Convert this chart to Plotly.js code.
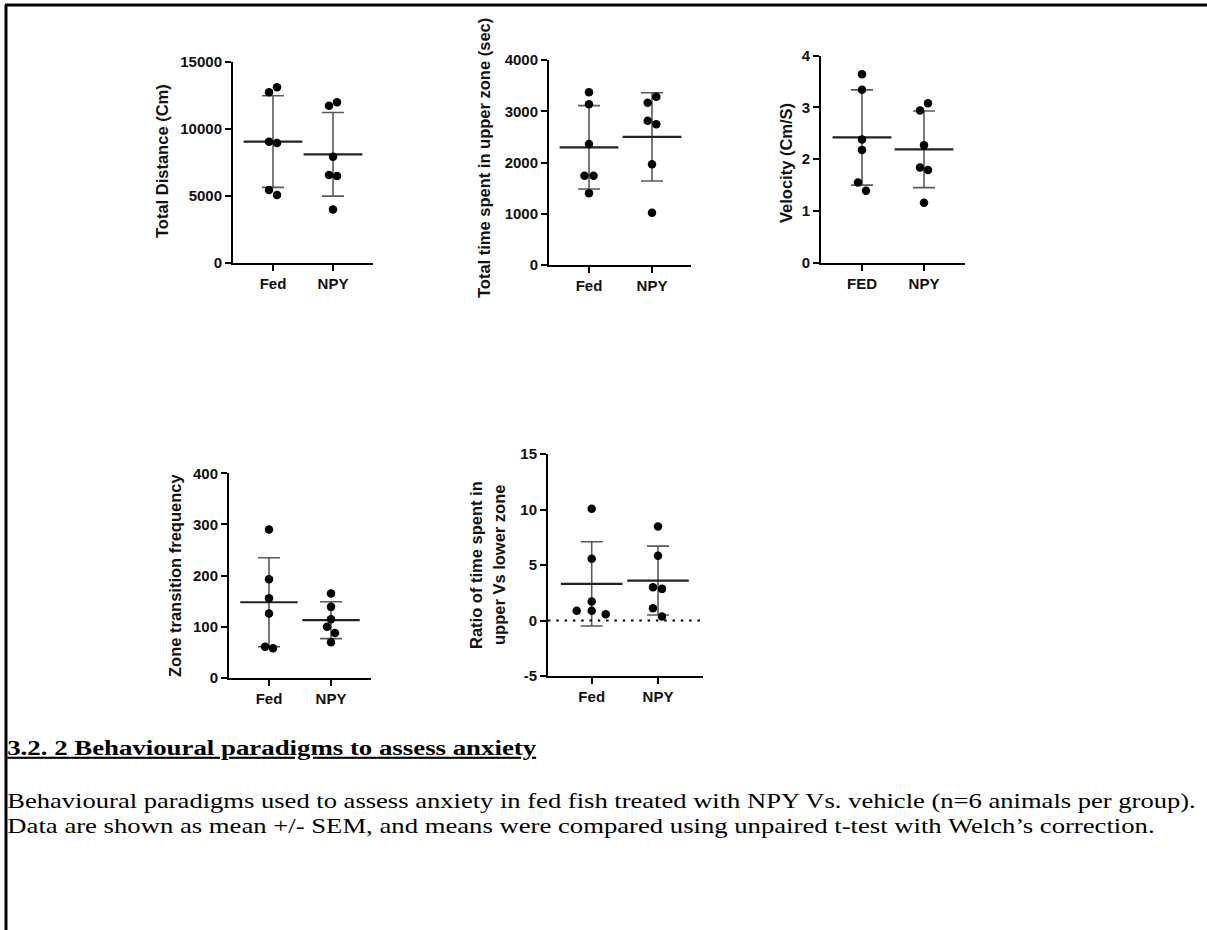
<!DOCTYPE html>
<html>
<head>
<meta charset="utf-8">
<script src="https://cdn.plot.ly/plotly-3.0.1.min.js"></script>
<style>
  html, body { margin: 0; padding: 0; background: #fff; }
  #chart { width: 1207px; height: 930px; }
</style>
</head>
<body>
<div id="chart"></div>
<script>
// ---------- data ----------
const groups1 = ['Fed', 'NPY'];
const groups3 = ['FED', 'NPY'];

const distFed = [13110, 12740, 9050, 8960, 5450, 5070];
const distNPY = [11990, 11740, 7930, 6570, 6490, 4000];
const distMean = [9060, 8110];
const distErr = [3420, 3120];
const distTicks = [0, 5000, 10000, 15000];

const timeFed = [3370, 3135, 2361, 1743, 1743, 1398];
const timeNPY = [3285, 3168, 2816, 2745, 1965, 1021];
const timeMean = [2296, 2500];
const timeErr = [813, 862];
const timeTicks = [0, 1000, 2000, 3000, 4000];

const velFed = [3.64, 3.34, 2.38, 2.18, 1.55, 1.39];
const velNPY = [3.08, 2.94, 2.27, 1.84, 1.79, 1.16];
const velMean = [2.42, 2.19];
const velErr = [0.92, 0.74];
const velTicks = [0, 1, 2, 3, 4];

const zoneFed = [290, 193, 156, 126, 61, 58];
const zoneNPY = [165, 139, 115, 100, 88, 70];
const zoneMean = [148, 113];
const zoneErr = [87, 36];
const zoneTicks = [0, 100, 200, 300, 400];

const ratioFed = [10.06, 5.56, 1.71, 0.87, 0.87, 0.57];
const ratioNPY = [8.47, 5.83, 3.0, 2.85, 1.11, 0.36];
const ratioMean = [3.3, 3.6];
const ratioErr = [3.8, 3.1];
const ratioTicks = [-5, 0, 5, 10, 15];

const titles = [
  'Total Distance (Cm)',
  'Total time spent in upper zone (sec)',
  'Velocity (Cm/S)',
  'Zone transition frequency',
  'Ratio of time spent in',
  'upper Vs lower zone'
];
const heading = '3.2. 2 Behavioural paradigms to assess anxiety';
const caption1 = 'Behavioural paradigms used to assess anxiety in fed fish treated with NPY Vs. vehicle (n=6 animals per group).';
const caption2 = 'Data are shown as mean +/- SEM, and means were compared using unpaired t-test with Welch\u2019s correction.';

// ---------- layout helpers (pixel geometry, not data) ----------
const W = 1207, H = 930;
const px = v => v / W;
const py = v => 1 - v / H;

// point scatter offsets in pixels (to separate overlapping dots)
const jit = {
  dist:  [[4, -4, -4, 4, -4, 4], [4, -4, 0, -4, 4, 0]],
  time:  [[0, 0, 0, -4.5, 4.5, 0], [4.3, -4.3, -4.3, 4.3, 0, 0]],
  vel:   [[0, 0, 0, 0, -4, 4], [4, -4, 0, -4, 4, 0]],
  zone:  [[0, 0, 0, 0, -4, 4], [0, 0, 0, -4, 4, 0]],
  ratio: [[0, 0, 0, -15, 0, 14], [0, 0, -5, 4, -5, 4]]
};

// panel geometry: x pixel of y-axis, x pixel of 1st and 2nd category, right end, top px, bottom px
const panels = [
  {key: 'dist',  fed: distFed,  npy: distNPY,  mean: distMean,  err: distErr,  ticks: distTicks,  cats: groups1,
   ax: 233, c0: 273, c1: 333, end: 373, top: 62, bot: 263, meanW: 42},
  {key: 'time',  fed: timeFed,  npy: timeNPY,  mean: timeMean,  err: timeErr,  ticks: timeTicks,  cats: groups1,
   ax: 549, c0: 589, c1: 652, end: 691, top: 60, bot: 265, meanW: 42},
  {key: 'vel',   fed: velFed,   npy: velNPY,   mean: velMean,   err: velErr,   ticks: velTicks,   cats: groups3,
   ax: 821, c0: 862, c1: 924, end: 965, top: 55.7, bot: 262.7, meanW: 42},
  {key: 'zone',  fed: zoneFed,  npy: zoneNPY,  mean: zoneMean,  err: zoneErr,  ticks: zoneTicks,  cats: groups1,
   ax: 229, c0: 269, c1: 331, end: 371, top: 473.3, bot: 678, meanW: 41},
  {key: 'ratio', fed: ratioFed, npy: ratioNPY, mean: ratioMean, err: ratioErr, ticks: ratioTicks, cats: groups1,
   ax: 548, c0: 591.7, c1: 658, end: 702.7, top: 454, bot: 676, meanW: 44}
];

const FONT = 'Liberation Sans, Arial, sans-serif';
const SERIF = 'Liberation Serif, Times New Roman, serif';
const traces = [];
const layout = {
  width: W, height: H, autosize: false,
  margin: {l: 0, r: 0, t: 0, b: 0, pad: 0},
  paper_bgcolor: '#ffffff', plot_bgcolor: 'rgba(0,0,0,0)',
  showlegend: false,
  font: {family: FONT, color: '#000'},
  shapes: [], annotations: []
};

panels.forEach((p, i) => {
  const n = i + 1;
  const xa = n === 1 ? 'x' : 'x' + n;
  const ya = n === 1 ? 'y' : 'y' + n;
  const unit = p.c1 - p.c0;
  const x0 = -(p.c0 - p.ax) / unit;
  const x1 = 1 + (p.end - p.c1) / unit;
  const j = jit[p.key];

  traces.push({
    type: 'scatter', mode: 'markers', xaxis: xa, yaxis: ya,
    x: [0, 1], y: p.mean, hoverinfo: 'skip',
    marker: {symbol: 'line-ew', size: p.meanW, color: '#222', line: {width: 2.2, color: '#222'}},
    error_y: {type: 'data', array: p.err, visible: true, color: '#5a5a5a', thickness: 1.6, width: 11}
  });
  traces.push({
    type: 'scatter', mode: 'markers', xaxis: xa, yaxis: ya,
    x: p.fed.map((v, k) => 0 + j[0][k] / unit), y: p.fed,
    marker: {size: 8.5, color: '#000'}, cliponaxis: false
  });
  traces.push({
    type: 'scatter', mode: 'markers', xaxis: xa, yaxis: ya,
    x: p.npy.map((v, k) => 1 + j[1][k] / unit), y: p.npy,
    marker: {size: 8.5, color: '#000'}, cliponaxis: false
  });

  const axCommon = {
    showline: true, linecolor: '#000', linewidth: 2,
    ticks: 'outside', ticklen: 6, tickwidth: 2, tickcolor: '#000',
    showgrid: false, zeroline: false, fixedrange: true,
    tickfont: {family: FONT, size: 15, color: '#111', weight: 'bold'}
  };
  layout[n === 1 ? 'xaxis' : 'xaxis' + n] = Object.assign({}, axCommon, {
    domain: [px(p.ax), px(p.end)], anchor: ya,
    range: [x0, x1], tickvals: [0, 1], ticktext: p.cats
  });
  layout[n === 1 ? 'yaxis' : 'yaxis' + n] = Object.assign({}, axCommon, {
    domain: [py(p.bot), py(p.top)], anchor: xa,
    range: [p.ticks[0], p.ticks[p.ticks.length - 1]],
    tickvals: p.ticks, ticktext: p.ticks.map(String)
  });
});

// dotted zero line in the ratio panel
layout.shapes.push({
  type: 'line', xref: 'x5 domain', yref: 'y5', x0: 0, x1: 1, y0: 0, y1: 0,
  line: {color: '#000', width: 2, dash: '2.5px,5.8px'}
});

// page frame (top and left)
layout.shapes.push({type: 'line', xref: 'paper', yref: 'paper', x0: px(5), x1: 1, y0: py(5), y1: py(5),
  line: {color: '#000', width: 3}});
layout.shapes.push({type: 'line', xref: 'paper', yref: 'paper', x0: px(6), x1: px(6), y0: py(5), y1: 0,
  line: {color: '#000', width: 3}});

// axis titles
const titlePos = [[162, 161], [484, 158], [786, 163], [175, 576], [476, 565], [499, 565]];
titles.forEach((t, k) => {
  layout.annotations.push({
    xref: 'paper', yref: 'paper', x: px(titlePos[k][0]), y: py(titlePos[k][1]),
    text: t, showarrow: false, textangle: -90, xanchor: 'center', yanchor: 'middle',
    font: {family: FONT, size: 16.5, color: '#111', weight: 'bold'}
  });
});

// heading and caption (the reference text is horizontally widened; spans in px)
const textSpans = [
  {text: heading,  left: 7, right: 537, cy: 748, bold: true},
  {text: caption1, left: 7, right: 1196, cy: 801, bold: false},
  {text: caption2, left: 7, right: 1155, cy: 826, bold: false}
];
textSpans.forEach(s => {
  layout.annotations.push({
    xref: 'paper', yref: 'paper', x: px((s.left + s.right) / 2), y: py(s.cy),
    xanchor: 'center', yanchor: 'middle', text: s.text, showarrow: false,
    font: Object.assign({family: SERIF, size: 21, color: '#000'},
      s.bold ? {weight: 'bold', lineposition: 'under'} : {})
  });
});

Plotly.newPlot('chart', traces, layout, {staticPlot: true, displayModeBar: false}).then(gd => {
  const host = gd.getBoundingClientRect();
  gd.querySelectorAll('.annotation-text').forEach(el => {
    const s = textSpans.find(t => t.text === el.textContent);
    if (!s) return;
    const bb = el.getBBox();
    const r = el.getBoundingClientRect();
    const sx = (s.right - s.left) / bb.width;
    const targetLocal = bb.x + (s.left - (r.left - host.left));
    const prev = el.getAttribute('transform') || '';
    el.setAttribute('transform',
      (prev + ' translate(' + targetLocal + ',0) scale(' + sx + ',1) translate(' + (-bb.x) + ',0)').trim());
  });
});
</script>
</body>
</html>
